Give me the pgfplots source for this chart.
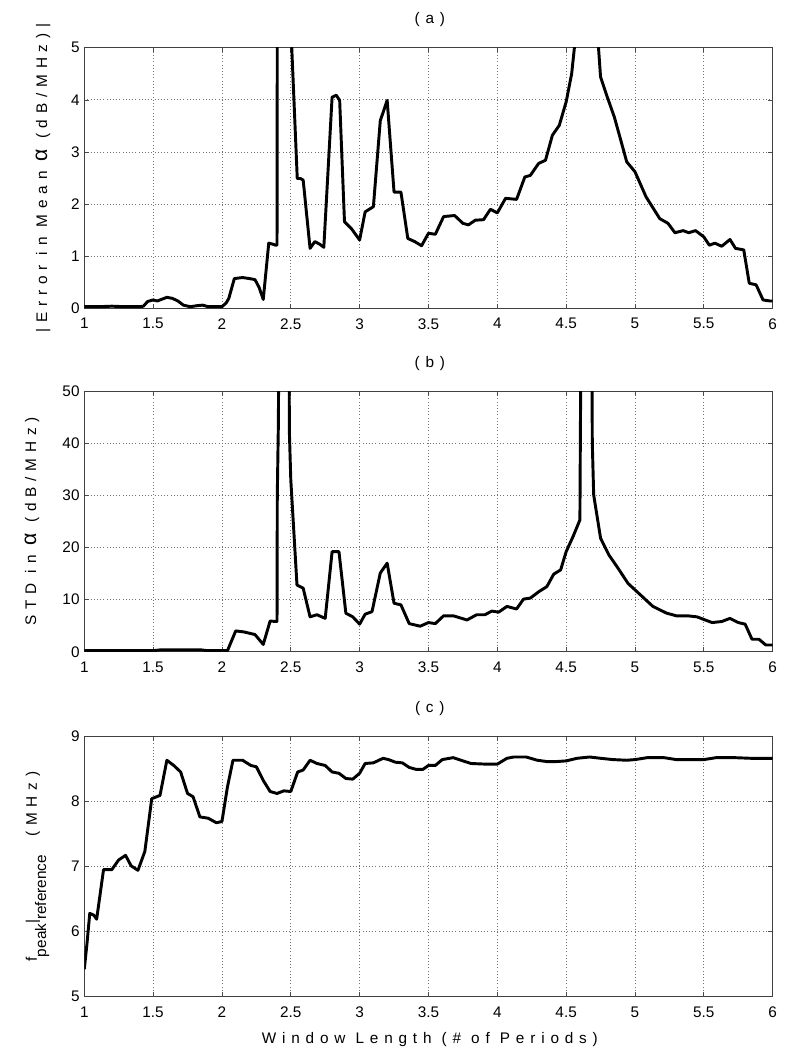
\documentclass[border=0pt]{standalone}
\usepackage{pgfplots}
\pgfplotsset{compat=1.18}
\usepackage{fontspec}
\setmainfont{Liberation Sans}
\newfontfamily\spaced[LetterSpace=38]{Liberation Sans}
\newcommand{\lbl}{\fontsize{11.5}{13}\selectfont}
\newcommand{\tkl}{\fontsize{11.5}{13}\selectfont}
\newcommand{\bigalpha}{{\fontsize{16}{16}\selectfont α}}

\pgfplotsset{
 mystyle/.style={
  width=516.3pt, height=195.4pt, scale only axis,
  xmin=1, xmax=6, xtick={1,1.5,2,2.5,3,3.5,4,4.5,5,5.5,6},
  grid=major,
  major grid style={dotted, line width=0.6pt, black!55},
  tick align=inside,
  major tick length=3.5pt,
  every tick/.style={black!70, line width=0.5pt},
  axis line style={black!75, line width=0.6pt},
  tick label style={font=\tkl},
  /pgf/number format/assume math mode=true,
  xticklabel style={yshift=-4pt},
  title style={font=\lbl\spaced, at={(axis description cs:0.502,1.077)}, anchor=center},
  ylabel style={font=\lbl\spaced, anchor=center},
  xlabel style={font=\lbl\spaced, at={(axis description cs:0.502,-0.166)}, anchor=center},
  clip=true,
 },
 dataline/.style={black, line width=2.2pt, line join=round, mark=none},
}

\begin{document}
\begin{tikzpicture}
\useasboundingbox (0pt,0pt) rectangle (600pt,-795.75pt);

% ---------------- (a)
\begin{axis}[mystyle, at={(63.2pt,-231.2pt)}, anchor=south west,
  ymin=0, ymax=5, ytick={0,1,2,3,4,5},
  title={(a)},
  ylabel={|Error in Mean \bigalpha\ (dB/MHz)|},
  ylabel style={at={(axis description cs:-0.06,0.5)}}]
\addplot[dataline] coordinates {
(1.00,0.03) (1.10,0.03) (1.20,0.04) (1.30,0.03) (1.40,0.03) (1.43,0.04) (1.46,0.13) (1.50,0.16) (1.53,0.14) (1.56,0.17) (1.60,0.21) (1.64,0.19) (1.68,0.14) (1.72,0.06) (1.77,0.03) (1.82,0.05) (1.86,0.06) (1.90,0.03) (1.95,0.03) (2.00,0.03) (2.03,0.10) (2.05,0.19) (2.09,0.57) (2.15,0.59) (2.20,0.57) (2.24,0.55) (2.27,0.40) (2.30,0.17) (2.34,1.25) (2.37,1.23) (2.39,1.21) (2.40,1.21) (2.405,12) (2.50,12) (2.507,5.0) (2.547,2.49) (2.57,2.49) (2.59,2.46) (2.64,1.15) (2.675,1.28) (2.71,1.23) (2.74,1.17) (2.80,4.05) (2.83,4.09) (2.855,3.99) (2.89,1.66) (2.94,1.53) (3.00,1.31) (3.04,1.85) (3.10,1.95) (3.15,3.60) (3.20,3.99) (3.25,2.23) (3.30,2.23) (3.35,1.34) (3.40,1.28) (3.45,1.20) (3.50,1.44) (3.55,1.42) (3.61,1.76) (3.69,1.78) (3.75,1.63) (3.79,1.60) (3.84,1.69) (3.90,1.70) (3.95,1.90) (4.00,1.83) (4.06,2.11) (4.14,2.09) (4.20,2.52) (4.24,2.55) (4.30,2.78) (4.35,2.84) (4.40,3.32) (4.45,3.51) (4.50,3.96) (4.54,4.50) (4.56,5.0) (4.60,9) (4.70,9) (4.735,5.0) (4.75,4.44) (4.79,4.12) (4.85,3.67) (4.89,3.29) (4.94,2.81) (5.00,2.62) (5.08,2.14) (5.18,1.72) (5.24,1.63) (5.29,1.45) (5.35,1.49) (5.39,1.45) (5.44,1.49) (5.50,1.37) (5.54,1.21) (5.58,1.25) (5.63,1.19) (5.69,1.32) (5.73,1.15) (5.79,1.12) (5.83,0.48) (5.88,0.45) (5.93,0.16) (5.98,0.14) (6.00,0.14)
};
\end{axis}

% ---------------- (b)
\begin{axis}[mystyle, at={(63.2pt,-488.8pt)}, anchor=south west,
  ymin=0, ymax=50, ytick={0,10,20,30,40,50},
  title={(b)},
  ylabel={STD in \bigalpha\ (dB/MHz)},
  ylabel style={at={(axis description cs:-0.076,0.5)}}]
\addplot[dataline] coordinates {
(1.00,0.2) (1.50,0.2) (1.55,0.35) (1.85,0.35) (1.90,0.2) (2.04,0.2) (2.10,4.0) (2.16,3.8) (2.24,3.3) (2.30,1.4) (2.35,5.9) (2.39,5.8) (2.40,5.8) (2.402,30) (2.41,44) (2.415,70) (2.485,70) (2.49,42) (2.50,33) (2.545,12.8) (2.59,12.2) (2.64,6.7) (2.69,7.1) (2.75,6.4) (2.80,19.2) (2.85,19.2) (2.90,7.4) (2.95,6.7) (3.00,5.3) (3.04,7.2) (3.09,7.7) (3.15,15.1) (3.20,17.0) (3.25,9.3) (3.30,9.0) (3.36,5.4) (3.44,4.9) (3.50,5.6) (3.55,5.4) (3.61,6.9) (3.68,6.9) (3.78,6.1) (3.85,7.1) (3.91,7.1) (3.96,7.8) (4.01,7.6) (4.07,8.7) (4.14,8.2) (4.19,10.1) (4.24,10.3) (4.30,11.5) (4.36,12.5) (4.41,14.9) (4.46,15.7) (4.50,19.2) (4.55,22.1) (4.60,25.3) (4.603,40) (4.61,70) (4.685,70) (4.69,40) (4.70,30.1) (4.75,21.8) (4.81,18.6) (4.87,16.3) (4.95,13.1) (5.04,10.9) (5.13,8.7) (5.23,7.4) (5.30,6.9) (5.38,6.9) (5.45,6.7) (5.51,6.1) (5.56,5.6) (5.63,5.8) (5.69,6.4) (5.75,5.6) (5.80,5.3) (5.85,2.4) (5.90,2.4) (5.95,1.3) (6.00,1.3)
};
\end{axis}

% ---------------- (c)
\begin{axis}[mystyle, at={(63.2pt,-747.5pt)}, anchor=south west,
  ymin=5, ymax=9, ytick={5,6,7,8,9},
  title={(c)},
  xlabel={Window Length (\# of Periods)},
  ylabel={{\normalfont f\raisebox{-0.6em}{peak}|\raisebox{-0.6em}{reference}}\hspace{1.2em}(MHz)},
  ylabel style={at={(axis description cs:-0.068,0.5)}}]
\addplot[dataline] coordinates {
(1.00,5.42) (1.02,5.82) (1.04,6.28) (1.07,6.25) (1.09,6.19) (1.14,6.95) (1.20,6.95) (1.25,7.10) (1.30,7.17) (1.34,7.01) (1.39,6.94) (1.44,7.23) (1.49,8.04) (1.55,8.09) (1.60,8.63) (1.65,8.55) (1.70,8.45) (1.75,8.12) (1.79,8.07) (1.84,7.76) (1.90,7.74) (1.96,7.67) (2.00,7.69) (2.04,8.22) (2.08,8.63) (2.15,8.63) (2.21,8.55) (2.25,8.53) (2.30,8.32) (2.35,8.15) (2.40,8.12) (2.45,8.16) (2.50,8.15) (2.55,8.45) (2.59,8.48) (2.64,8.63) (2.69,8.58) (2.75,8.55) (2.80,8.45) (2.85,8.43) (2.90,8.35) (2.95,8.34) (3.00,8.43) (3.04,8.58) (3.10,8.59) (3.17,8.66) (3.21,8.64) (3.26,8.60) (3.31,8.59) (3.36,8.52) (3.41,8.49) (3.46,8.49) (3.50,8.55) (3.55,8.55) (3.60,8.64) (3.68,8.67) (3.75,8.62) (3.81,8.58) (3.92,8.57) (4.00,8.57) (4.07,8.66) (4.12,8.68) (4.21,8.68) (4.29,8.63) (4.36,8.61) (4.43,8.61) (4.50,8.62) (4.58,8.66) (4.67,8.68) (4.75,8.66) (4.84,8.64) (4.94,8.63) (5.00,8.64) (5.09,8.67) (5.21,8.67) (5.30,8.64) (5.40,8.64) (5.50,8.64) (5.59,8.67) (5.72,8.67) (5.84,8.66) (6.00,8.66)
};
\end{axis}
\end{tikzpicture}
\end{document}
